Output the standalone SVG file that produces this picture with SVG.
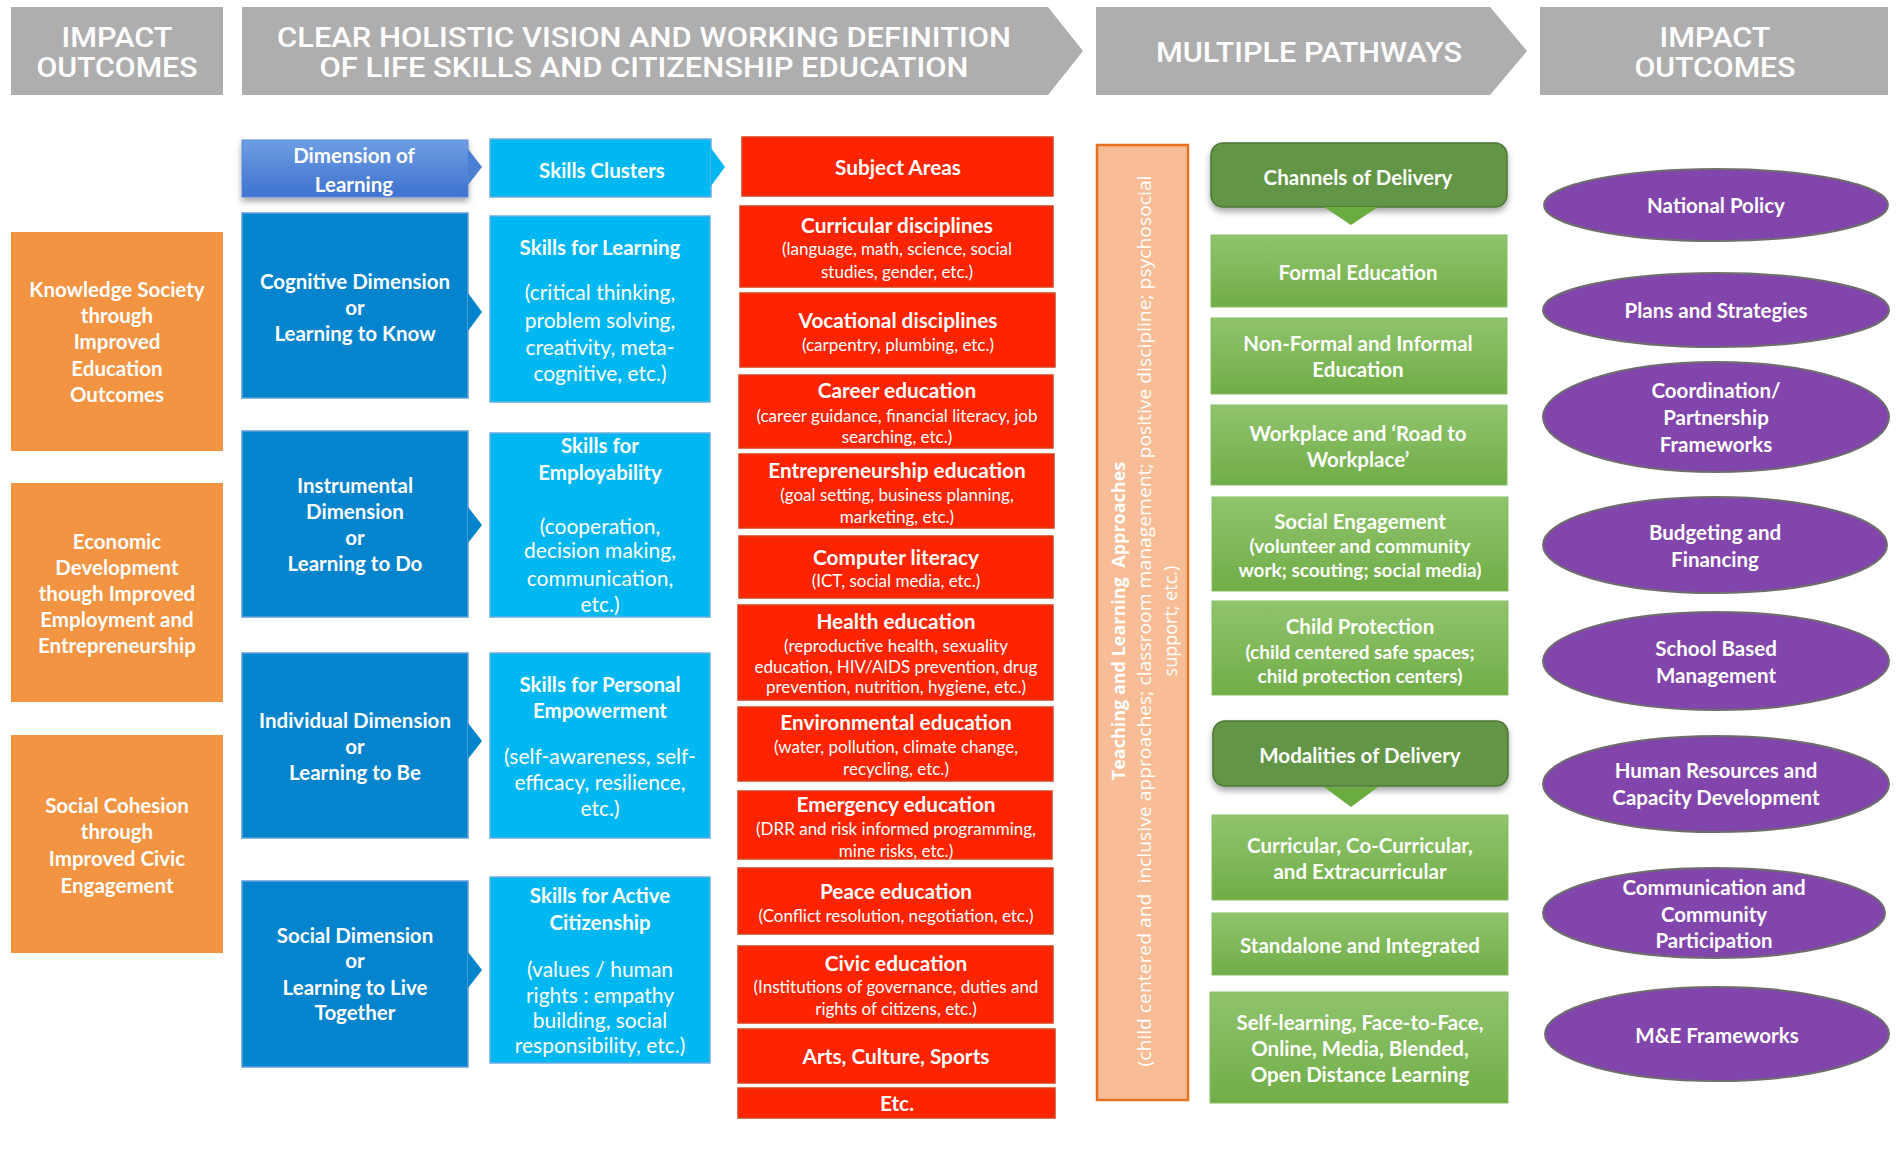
<svg xmlns="http://www.w3.org/2000/svg" width="1900" height="1157" viewBox="0 0 1900 1157">
<defs>
<style>
.hdr{fill:#afaeae}
.ht{font-family:Roboto,"Liberation Sans",sans-serif;font-size:27px;font-weight:500;fill:#fff;text-anchor:middle}
.t{font-family:Lato,"Open Sans",sans-serif;fill:#fff;text-anchor:middle}
.b{font-weight:bold}
.s20{font-size:20.5px}
.s21{font-size:21px}
.rt{font-size:20.8px}
.s19{font-size:19px}
.g20{font-size:20.5px}
.s17{font-size:17px}
.org{fill:#f29442}
.dim{fill:#0384cd;stroke:#5fa0dc;stroke-width:1.5}
.cyan{fill:#00b8f1;stroke:#6aaee0;stroke-width:1.5}
.red{fill:#ff2400;stroke:#d8401c;stroke-width:1.5}
.grn{fill:url(#gg);stroke:#88bb66;stroke-width:1}
.dgrn{fill:#649546;stroke:#4c7634;stroke-width:1.5}
.pur{fill:#8245ab;stroke:#6e6e6e;stroke-width:2}
.tri-blue{fill:#0384cd}
.tri-cyan{fill:#00b8f1}
.tri-hd{fill:#4a7fd3}
.tri-g{fill:#6aac40}
.peach{fill:#f8bd96;stroke:#e4721e;stroke-width:2.5}
.tp{font-family:"Open Sans",Lato,sans-serif;fill:#fff;text-anchor:middle;font-size:18px;white-space:pre}
</style>
<linearGradient id="gg" x1="0" y1="0" x2="0" y2="1">
<stop offset="0" stop-color="#90c46d"/>
<stop offset="1" stop-color="#70ad47"/>
</linearGradient>
<linearGradient id="gd" x1="0" y1="0" x2="0" y2="1">
<stop offset="0" stop-color="#6e9ee2"/>
<stop offset="1" stop-color="#3e72cf"/>
</linearGradient>
<filter id="sh" x="-10%" y="-20%" width="120%" height="160%">
<feDropShadow dx="0" dy="4" stdDeviation="3" flood-color="#000" flood-opacity="0.35"/>
</filter>
</defs>
<rect width="1900" height="1157" fill="#fff"/>

<g id="header-impact-left">
<rect class="hdr" x="11" y="7" width="212" height="88"/>
<text class="ht" x="117" y="47" textLength="111" lengthAdjust="spacingAndGlyphs">IMPACT</text>
<text class="ht" x="117" y="77" textLength="161" lengthAdjust="spacingAndGlyphs">OUTCOMES</text>
</g>
<g id="header-vision">
<polygon class="hdr" points="242,7 1048,7 1083,51 1048,95 242,95"/>
<text class="ht" x="644" y="47" textLength="734" lengthAdjust="spacingAndGlyphs">CLEAR HOLISTIC VISION AND WORKING DEFINITION</text>
<text class="ht" x="644" y="77" textLength="649" lengthAdjust="spacingAndGlyphs">OF LIFE SKILLS AND CITIZENSHIP EDUCATION</text>
</g>
<g id="header-pathways">
<polygon class="hdr" points="1096,7 1490,7 1527,51 1490,95 1096,95"/>
<text class="ht" x="1309" y="62" textLength="306" lengthAdjust="spacingAndGlyphs">MULTIPLE PATHWAYS</text>
</g>
<g id="header-impact-right">
<rect class="hdr" x="1540" y="7" width="348" height="88"/>
<text class="ht" x="1715" y="47" textLength="111" lengthAdjust="spacingAndGlyphs">IMPACT</text>
<text class="ht" x="1715" y="77" textLength="161" lengthAdjust="spacingAndGlyphs">OUTCOMES</text>
</g>

<g id="outcome-knowledge">
<rect class="org" x="11" y="232" width="212" height="219"/>
<text class="t b s20"><tspan x="117" y="297">Knowledge Society</tspan><tspan x="117" y="323">through</tspan><tspan x="117" y="349">Improved</tspan><tspan x="117" y="376">Education</tspan><tspan x="117" y="402">Outcomes</tspan></text>
</g>
<g id="outcome-economic">
<rect class="org" x="11" y="483" width="212" height="219"/>
<text class="t b s20"><tspan x="117" y="549">Economic</tspan><tspan x="117" y="575">Development</tspan><tspan x="117" y="601">though Improved</tspan><tspan x="117" y="627">Employment and</tspan><tspan x="117" y="653">Entrepreneurship</tspan></text>
</g>
<g id="outcome-social">
<rect class="org" x="11" y="735" width="212" height="218"/>
<text class="t b s20"><tspan x="117" y="813">Social Cohesion</tspan><tspan x="117" y="839">through</tspan><tspan x="117" y="866">Improved Civic</tspan><tspan x="117" y="893">Engagement</tspan></text>
</g>

<g id="dimension-header">
<rect x="242" y="140" width="226" height="57" fill="url(#gd)" stroke="#5b8ad8" stroke-width="1" filter="url(#sh)"/>
<text class="t b s20"><tspan x="354" y="163">Dimension of</tspan><tspan x="354" y="192">Learning</tspan></text>
</g>
<g id="skills-header">
<rect class="cyan" x="490" y="139" width="221" height="58"/>
<text class="t b s20" x="602" y="178">Skills Clusters</text>
</g>

<g id="dim-cognitive">
<rect class="dim" x="242" y="213" width="226" height="185"/>
<text class="t b s20"><tspan x="355" y="289">Cognitive Dimension</tspan><tspan x="355" y="315">or</tspan><tspan x="355" y="341">Learning to Know</tspan></text>
</g>
<g id="dim-instrumental">
<rect class="dim" x="242" y="431" width="226" height="186"/>
<text class="t b s20"><tspan x="355" y="493">Instrumental</tspan><tspan x="355" y="519">Dimension</tspan><tspan x="355" y="545">or</tspan><tspan x="355" y="571">Learning to Do</tspan></text>
</g>
<g id="dim-individual">
<rect class="dim" x="242" y="653" width="226" height="185"/>
<text class="t b s20"><tspan x="355" y="728">Individual Dimension</tspan><tspan x="355" y="754">or</tspan><tspan x="355" y="780">Learning to Be</tspan></text>
</g>
<g id="dim-social">
<rect class="dim" x="242" y="881" width="226" height="186"/>
<text class="t b s20"><tspan x="355" y="943">Social Dimension</tspan><tspan x="355" y="968">or</tspan><tspan x="355" y="995">Learning to Live</tspan><tspan x="355" y="1020">Together</tspan></text>
</g>

<g id="skills-learning">
<rect class="cyan" x="490" y="216" width="220" height="186"/>
<text class="t b s20" x="600" y="255">Skills for Learning</text>
<text class="t s21"><tspan x="600" y="300">(critical thinking,</tspan><tspan x="600" y="328">problem solving,</tspan><tspan x="600" y="355">creativity, meta-</tspan><tspan x="600" y="381">cognitive, etc.)</tspan></text>
</g>
<g id="skills-employability">
<rect class="cyan" x="490" y="433" width="220" height="184"/>
<text class="t b s20"><tspan x="600" y="453">Skills for</tspan><tspan x="600" y="480">Employability</tspan></text>
<text class="t s21"><tspan x="600" y="534">(cooperation,</tspan><tspan x="600" y="558">decision making,</tspan><tspan x="600" y="586">communication,</tspan><tspan x="600" y="612">etc.)</tspan></text>
</g>
<g id="skills-personal">
<rect class="cyan" x="490" y="653" width="220" height="185"/>
<text class="t b s20"><tspan x="600" y="692">Skills for Personal</tspan><tspan x="600" y="718">Empowerment</tspan></text>
<text class="t s21"><tspan x="600" y="764">(self-awareness, self-</tspan><tspan x="600" y="790">efficacy, resilience,</tspan><tspan x="600" y="816">etc.)</tspan></text>
</g>
<g id="skills-citizenship">
<rect class="cyan" x="490" y="877" width="220" height="186"/>
<text class="t b s20"><tspan x="600" y="903">Skills for Active</tspan><tspan x="600" y="930">Citizenship</tspan></text>
<text class="t s21"><tspan x="600" y="977">(values / human</tspan><tspan x="600" y="1003">rights : empathy</tspan><tspan x="600" y="1028">building, social</tspan><tspan x="600" y="1053">responsibility, etc.)</tspan></text>
</g>

<g id="subject-areas">
<rect class="red" x="742" y="137" width="311" height="59"/>
<text class="t b rt" x="898" y="175">Subject Areas</text>
</g>
<g id="subj-curricular">
<rect class="red" x="740" y="206" width="313" height="81"/>
<text class="t b rt" x="897" y="233">Curricular disciplines</text>
<text class="t s17"><tspan x="897" y="255">(language, math, science, social</tspan><tspan x="897" y="278">studies, gender, etc.)</tspan></text>
</g>
<g id="subj-vocational">
<rect class="red" x="740" y="293" width="315" height="74"/>
<text class="t b rt" x="898" y="328">Vocational disciplines</text>
<text class="t s17" x="898" y="351">(carpentry, plumbing, etc.)</text>
</g>
<g id="subj-career">
<rect class="red" x="739" y="375" width="314" height="73"/>
<text class="t b rt" x="897" y="398">Career education</text>
<text class="t s17"><tspan x="897" y="422">(career guidance, financial literacy, job</tspan><tspan x="897" y="443">searching, etc.)</tspan></text>
</g>
<g id="subj-entrepreneurship">
<rect class="red" x="739" y="454" width="315" height="74"/>
<text class="t b rt" x="897" y="478">Entrepreneurship education</text>
<text class="t s17"><tspan x="897" y="501">(goal setting, business planning,</tspan><tspan x="897" y="523">marketing, etc.)</tspan></text>
</g>
<g id="subj-computer">
<rect class="red" x="739" y="536" width="314" height="62"/>
<text class="t b rt" x="896" y="565">Computer literacy</text>
<text class="t s17" x="896" y="587">(ICT, social media, etc.)</text>
</g>
<g id="subj-health">
<rect class="red" x="738" y="605" width="315" height="95"/>
<text class="t b rt" x="896" y="629">Health education</text>
<text class="t s17"><tspan x="896" y="652">(reproductive health, sexuality</tspan><tspan x="896" y="673">education, HIV/AIDS prevention, drug</tspan><tspan x="896" y="693">prevention, nutrition, hygiene, etc.)</tspan></text>
</g>
<g id="subj-environmental">
<rect class="red" x="738" y="707" width="315" height="74"/>
<text class="t b rt" x="896" y="730">Environmental education</text>
<text class="t s17"><tspan x="896" y="753">(water, pollution, climate change,</tspan><tspan x="896" y="775">recycling, etc.)</tspan></text>
</g>
<g id="subj-emergency">
<rect class="red" x="738" y="791" width="314" height="68"/>
<text class="t b rt" x="896" y="812">Emergency education</text>
<text class="t s17"><tspan x="896" y="835">(DRR and risk informed programming,</tspan><tspan x="896" y="857">mine risks, etc.)</tspan></text>
</g>
<g id="subj-peace">
<rect class="red" x="738" y="868" width="315" height="66"/>
<text class="t b rt" x="896" y="899">Peace education</text>
<text class="t s17" x="896" y="922">(Conflict resolution, negotiation, etc.)</text>
</g>
<g id="subj-civic">
<rect class="red" x="738" y="946" width="315" height="77"/>
<text class="t b rt" x="896" y="971">Civic education</text>
<text class="t s17"><tspan x="896" y="993">(Institutions of governance, duties and</tspan><tspan x="896" y="1015">rights of citizens, etc.)</tspan></text>
</g>
<g id="subj-arts">
<rect class="red" x="738" y="1029" width="317" height="54"/>
<text class="t b rt" x="896" y="1064">Arts, Culture, Sports</text>
</g>
<g id="subj-etc">
<rect class="red" x="738" y="1088" width="317" height="30"/>
<text class="t b rt" x="897" y="1111">Etc.</text>
</g>

<g id="teaching-approaches">
<rect class="peach" x="1097" y="145" width="91" height="955"/>
<g transform="translate(1125,621) rotate(-90)">
<text class="tp" font-weight="bold" x="0" y="0">Teaching and Learning  Approaches</text>
<text class="tp" x="0" y="26" textLength="891" lengthAdjust="spacingAndGlyphs">(child centered and  inclusive approaches; classroom management; positive discipline; psychosocial</text>
<text class="tp" x="0" y="52">support; etc.)</text>
</g>
</g>

<g id="channels-of-delivery">
<rect class="dgrn" x="1211" y="143" width="296" height="64" rx="12" filter="url(#sh)"/>
<text class="t b g20" x="1358" y="185">Channels of Delivery</text>
</g>
<g id="ch-formal">
<rect class="grn" x="1211" y="235" width="296" height="72"/>
<text class="t b g20" x="1358" y="280">Formal Education</text>
</g>
<g id="ch-nonformal">
<rect class="grn" x="1211" y="318" width="296" height="76"/>
<text class="t b g20"><tspan x="1358" y="351">Non-Formal and Informal</tspan><tspan x="1358" y="377">Education</tspan></text>
</g>
<g id="ch-workplace">
<rect class="grn" x="1211" y="405" width="296" height="80"/>
<text class="t b g20"><tspan x="1358" y="441">Workplace and ‘Road to</tspan><tspan x="1358" y="467">Workplace’</tspan></text>
</g>
<g id="ch-social">
<rect class="grn" x="1212" y="497" width="296" height="94"/>
<text class="t b g20" x="1360" y="529">Social Engagement</text>
<text class="t b s19"><tspan x="1360" y="553">(volunteer and community</tspan><tspan x="1360" y="577">work; scouting; social media)</tspan></text>
</g>
<g id="ch-child">
<rect class="grn" x="1212" y="601" width="296" height="94"/>
<text class="t b g20" x="1360" y="634">Child Protection</text>
<text class="t b s19"><tspan x="1360" y="659">(child centered safe spaces;</tspan><tspan x="1360" y="683">child protection centers)</tspan></text>
</g>
<g id="modalities-of-delivery">
<rect class="dgrn" x="1213" y="721" width="295" height="65" rx="12" filter="url(#sh)"/>
<text class="t b g20" x="1360" y="763">Modalities of Delivery</text>
</g>
<g id="mod-curricular">
<rect class="grn" x="1212" y="815" width="296" height="85"/>
<text class="t b g20"><tspan x="1360" y="853">Curricular, Co-Curricular,</tspan><tspan x="1360" y="879">and Extracurricular</tspan></text>
</g>
<g id="mod-standalone">
<rect class="grn" x="1212" y="913" width="296" height="62"/>
<text class="t b g20" x="1360" y="953">Standalone and Integrated</text>
</g>
<g id="mod-selflearning">
<rect class="grn" x="1210" y="992" width="298" height="111"/>
<text class="t b g20"><tspan x="1360" y="1030">Self-learning, Face-to-Face,</tspan><tspan x="1360" y="1056">Online, Media, Blended,</tspan><tspan x="1360" y="1082">Open Distance Learning</tspan></text>
</g>

<g id="impact-national-policy">
<ellipse class="pur" cx="1716" cy="205" rx="172" ry="36"/>
<text class="t b g20" x="1716" y="213">National Policy</text>
</g>
<g id="impact-plans">
<ellipse class="pur" cx="1716" cy="310" rx="173" ry="37"/>
<text class="t b g20" x="1716" y="318">Plans and Strategies</text>
</g>
<g id="impact-coordination">
<ellipse class="pur" cx="1716" cy="417" rx="173" ry="55"/>
<text class="t b g20"><tspan x="1716" y="398">Coordination/</tspan><tspan x="1716" y="425">Partnership</tspan><tspan x="1716" y="452">Frameworks</tspan></text>
</g>
<g id="impact-budgeting">
<ellipse class="pur" cx="1715" cy="545" rx="172" ry="48"/>
<text class="t b g20"><tspan x="1715" y="540">Budgeting and</tspan><tspan x="1715" y="567">Financing</tspan></text>
</g>
<g id="impact-school">
<ellipse class="pur" cx="1716" cy="661" rx="173" ry="49"/>
<text class="t b g20"><tspan x="1716" y="656">School Based</tspan><tspan x="1716" y="683">Management</tspan></text>
</g>
<g id="impact-human">
<ellipse class="pur" cx="1716" cy="784" rx="173" ry="48"/>
<text class="t b g20"><tspan x="1716" y="778">Human Resources and</tspan><tspan x="1716" y="805">Capacity Development</tspan></text>
</g>
<g id="impact-communication">
<ellipse class="pur" cx="1714" cy="913" rx="171" ry="45"/>
<text class="t b g20"><tspan x="1714" y="895">Communication and</tspan><tspan x="1714" y="922">Community</tspan><tspan x="1714" y="948">Participation</tspan></text>
</g>
<g id="impact-me">
<ellipse class="pur" cx="1717" cy="1034" rx="172" ry="47"/>
<text class="t b g20" x="1717" y="1043">M&amp;E Frameworks</text>
</g>

<g id="connectors">
<polygon class="tri-hd" points="468,149 482,167 468,185"/>
<polygon class="tri-cyan" points="711,148 725,167 711,186"/>
<polygon class="tri-blue" points="468,293 482,312 468,331"/>
<polygon class="tri-blue" points="468,507 482,525 468,543"/>
<polygon class="tri-blue" points="468,723 482,741 468,759"/>
<polygon class="tri-blue" points="468,952 482,970 468,988"/>
<polygon class="tri-g" points="1324,207 1378,207 1351,225"/>
<polygon class="tri-g" points="1324,787 1378,787 1351,807"/>
</g>
</svg>
